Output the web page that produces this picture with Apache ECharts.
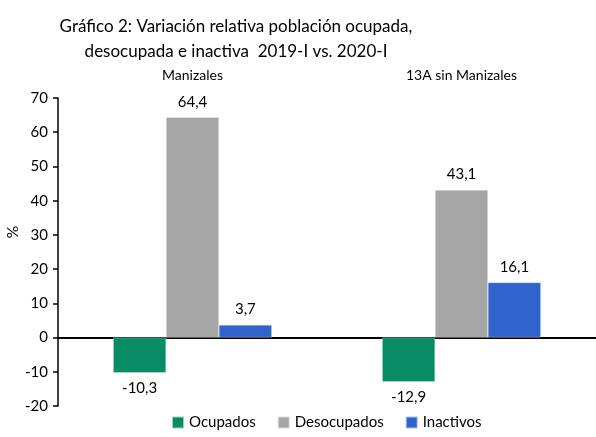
<!DOCTYPE html>
<html>
<head>
<meta charset="utf-8">
<script src="https://cdn.jsdelivr.net/npm/echarts@6/dist/echarts.min.js"></script>
<style>
html, body { margin: 0; padding: 0; background: #fff; }
#chart { width: 596px; height: 437px; }
</style>
</head>
<body>
<div id="chart"></div>
<script>
var categories = ['Manizales', '13A sin Manizales'];
var ocupados = [-10.3, -12.9];
var desocupados = [64.4, 43.1];
var inactivos = [3.7, 16.1];
var yTicks = { min: -20, max: 70, interval: 10 };
var yName = '%';

var font = 'Lato, "Open Sans", sans-serif';

function fmt(p) {
  return String(p.value).replace('.', ',');
}

function barSeries(name, data, color) {
  return {
    name: name,
    type: 'bar',
    data: data,
    barGap: '0%',
    barCategoryGap: '41%',
    itemStyle: { color: color, borderColor: 'rgba(255,255,255,0.6)', borderWidth: 0.5 },
    label: {
      show: true,
      position: 'outside',
      formatter: fmt,
      color: '#000',
      fontSize: 15,
      fontFamily: font,
      distance: 8
    }
  };
}

var chart = echarts.init(document.getElementById('chart'));
var option = {
  animation: false,
  title: {
    text: 'Gráfico 2: Variación relativa población ocupada,\ndesocupada e inactiva  2019-I vs. 2020-I',
    left: 231,
    top: 9,
    textAlign: 'center',
    textStyle: { fontSize: 17, fontWeight: 'normal', color: '#000', fontFamily: font, lineHeight: 25 }
  },
  // y axis title, rotated, to the left of the tick labels
  graphic: [{
    type: 'text',
    x: 13,
    y: 232,
    rotation: Math.PI / 2,
    style: {
      text: yName,
      fill: '#000',
      font: '16px ' + font,
      align: 'center',
      verticalAlign: 'middle'
    }
  }],
  legend: {
    bottom: 2,
    left: 166,
    itemWidth: 12,
    itemHeight: 12,
    itemGap: 21,
    icon: 'rect',
    textStyle: { fontSize: 15, color: '#000', fontFamily: font },
    data: ['Ocupados', 'Desocupados', 'Inactivos']
  },
  grid: { left: 58, right: 0, top: 98, bottom: 31, outerBoundsMode: 'none' },
  xAxis: [
    {
      type: 'category',
      data: categories,
      position: 'bottom',
      axisLine: { onZero: true, lineStyle: { color: '#000', width: 2 } },
      axisTick: { show: false },
      axisLabel: { show: false }
    },
    {
      type: 'category',
      data: categories,
      position: 'top',
      axisLine: { show: false, onZero: false },
      axisTick: { show: false },
      axisLabel: { color: '#000', fontSize: 14, fontFamily: font, margin: 16 }
    }
  ],
  yAxis: {
    type: 'value',
    min: yTicks.min,
    max: yTicks.max,
    interval: yTicks.interval,
    axisLine: { show: true, lineStyle: { color: '#000', width: 1.5 } },
    axisTick: { show: true, length: 5, lineStyle: { color: '#000', width: 1.5 } },
    axisLabel: { color: '#000', fontSize: 15, fontFamily: font, margin: 10 },
    splitLine: { show: false }
  },
  series: [
    barSeries('Ocupados', ocupados, '#088c63'),
    barSeries('Desocupados', desocupados, '#a6a6a6'),
    barSeries('Inactivos', inactivos, '#3064cc')
  ]
};
chart.setOption(option);
</script>
</body>
</html>
